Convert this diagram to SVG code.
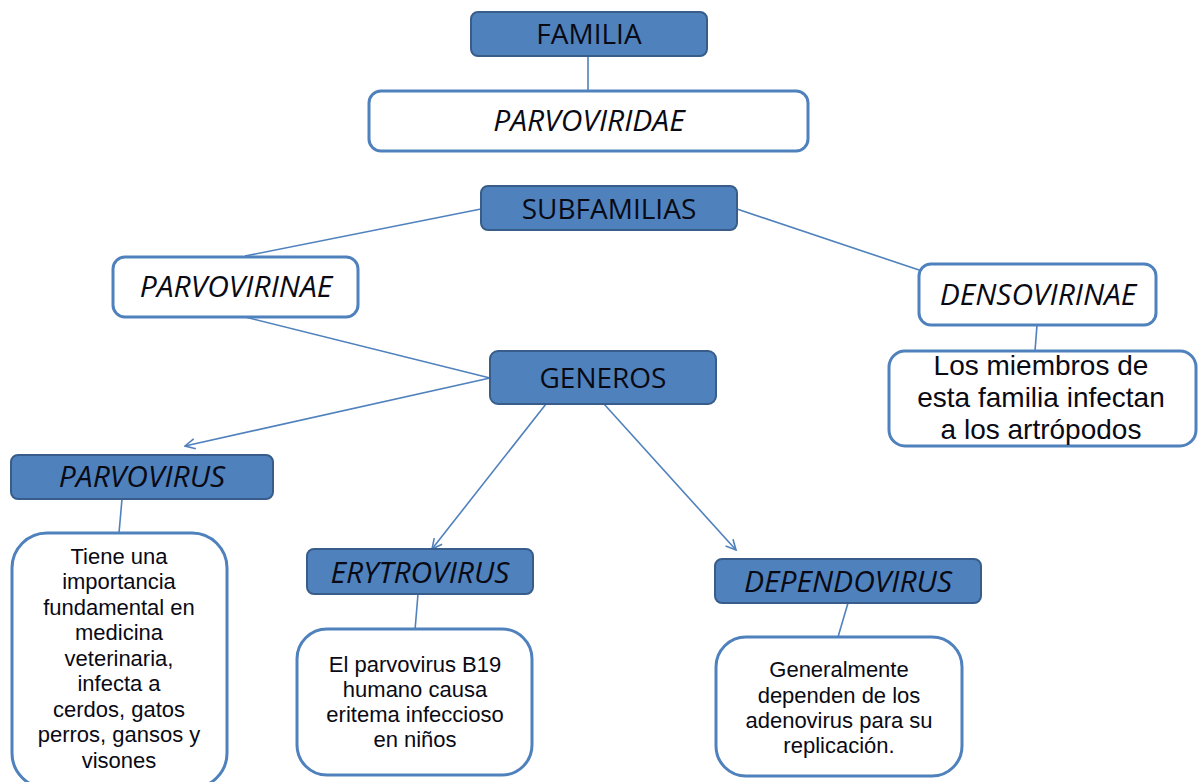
<svg xmlns="http://www.w3.org/2000/svg" width="1199" height="782" viewBox="0 0 1199 782">
<defs>
<marker id="arr" viewBox="0 0 12 12" refX="11" refY="6" markerWidth="12" markerHeight="12" markerUnits="userSpaceOnUse" orient="auto">
<path d="M1,1 L11,6 L1,11" fill="none" stroke="#4f81bd" stroke-width="1.6"/>
</marker>
</defs>
<style>
.dark{fill:#4f81bd;stroke:#385d8a;stroke-width:2}
.light{fill:#ffffff;stroke:#4f81bd;stroke-width:3}
.con{stroke:#4f81bd;stroke-width:1.6;fill:none}
text{font-family:"Open Sans",Lato,"Liberation Sans",sans-serif;fill:#0a0a14;text-anchor:middle}
.h{font-size:28px}
.i{font-style:italic;font-size:30px}
.s{font-family:"Liberation Sans",Arial,sans-serif;font-size:22px}
.m{font-family:"Liberation Sans",Arial,sans-serif;font-size:28px}
</style>
<rect width="1199" height="782" fill="#ffffff"/>
<g id="connectors">
<line class="con" x1="588" y1="56" x2="588" y2="91"/>
<line class="con" x1="481" y1="209" x2="245" y2="256"/>
<line class="con" x1="737" y1="209" x2="919" y2="270"/>
<line class="con" x1="245" y1="317" x2="490" y2="378"/>
<line class="con" x1="1037" y1="325" x2="1035" y2="351"/>
<line class="con" x1="490" y1="378" x2="185" y2="446" marker-end="url(#arr)"/>
<line class="con" x1="546" y1="404" x2="432" y2="549" marker-end="url(#arr)"/>
<line class="con" x1="604" y1="404" x2="736" y2="550" marker-end="url(#arr)"/>
<line class="con" x1="122" y1="499" x2="119" y2="533"/>
<line class="con" x1="418" y1="594" x2="415" y2="630"/>
<line class="con" x1="848" y1="603" x2="838" y2="637"/>
</g>
<g id="familia">
<rect class="dark" x="471" y="12" width="236" height="44" rx="7"/>
<text class="h" x="589" y="44">FAMILIA</text>
</g>
<g id="parvoviridae">
<rect class="light" x="369" y="91" width="439" height="60" rx="12"/>
<text class="h i" x="589" y="131">PARVOVIRIDAE</text>
</g>
<g id="subfamilias">
<rect class="dark" x="481" y="186" width="256" height="44" rx="7"/>
<text class="h" x="609" y="219">SUBFAMILIAS</text>
</g>
<g id="parvovirinae">
<rect class="light" x="113" y="257" width="245" height="60" rx="12"/>
<text class="h i" x="236" y="297">PARVOVIRINAE</text>
</g>
<g id="densovirinae">
<rect class="light" x="919" y="264" width="237" height="61" rx="12"/>
<text class="h i" x="1038" y="305">DENSOVIRINAE</text>
</g>
<g id="densovirinae-desc">
<rect class="light" x="889" y="351" width="307" height="95" rx="16"/>
<text class="m" x="1041" y="375">Los miembros de</text>
<text class="m" x="1041" y="407">esta familia infectan</text>
<text class="m" x="1041" y="439">a los artrópodos</text>
</g>
<g id="generos">
<rect class="dark" x="490" y="351" width="226" height="53" rx="8"/>
<text class="h" x="603" y="388">GENEROS</text>
</g>
<g id="parvovirus">
<rect class="dark" x="11" y="455" width="262" height="44" rx="7"/>
<text class="h i" x="142" y="487">PARVOVIRUS</text>
</g>
<g id="parvovirus-desc">
<rect class="light" x="12" y="533" width="215" height="255" rx="35"/>
<text class="s" x="119" y="564">Tiene una</text>
<text class="s" x="119" y="589">importancia</text>
<text class="s" x="119" y="615">fundamental en</text>
<text class="s" x="119" y="640">medicina</text>
<text class="s" x="119" y="666">veterinaria,</text>
<text class="s" x="119" y="691">infecta a</text>
<text class="s" x="119" y="717">cerdos, gatos</text>
<text class="s" x="119" y="742">perros, gansos y</text>
<text class="s" x="119" y="768">visones</text>
</g>
<g id="erytrovirus">
<rect class="dark" x="307" y="549" width="226" height="45" rx="7"/>
<text class="h i" x="420" y="583">ERYTROVIRUS</text>
</g>
<g id="erytrovirus-desc">
<rect class="light" x="297" y="629" width="235" height="146" rx="30"/>
<text class="s" x="415" y="672">El parvovirus B19</text>
<text class="s" x="415" y="697">humano causa</text>
<text class="s" x="415" y="722">eritema infeccioso</text>
<text class="s" x="415" y="747">en niños</text>
</g>
<g id="dependovirus">
<rect class="dark" x="715" y="559" width="266" height="44" rx="7"/>
<text class="h i" x="848" y="592">DEPENDOVIRUS</text>
</g>
<g id="dependovirus-desc">
<rect class="light" x="716" y="637" width="246" height="139" rx="30"/>
<text class="s" x="839" y="677">Generalmente</text>
<text class="s" x="839" y="703">dependen de los</text>
<text class="s" x="839" y="728">adenovirus para su</text>
<text class="s" x="839" y="753">replicación.</text>
</g>
</svg>
